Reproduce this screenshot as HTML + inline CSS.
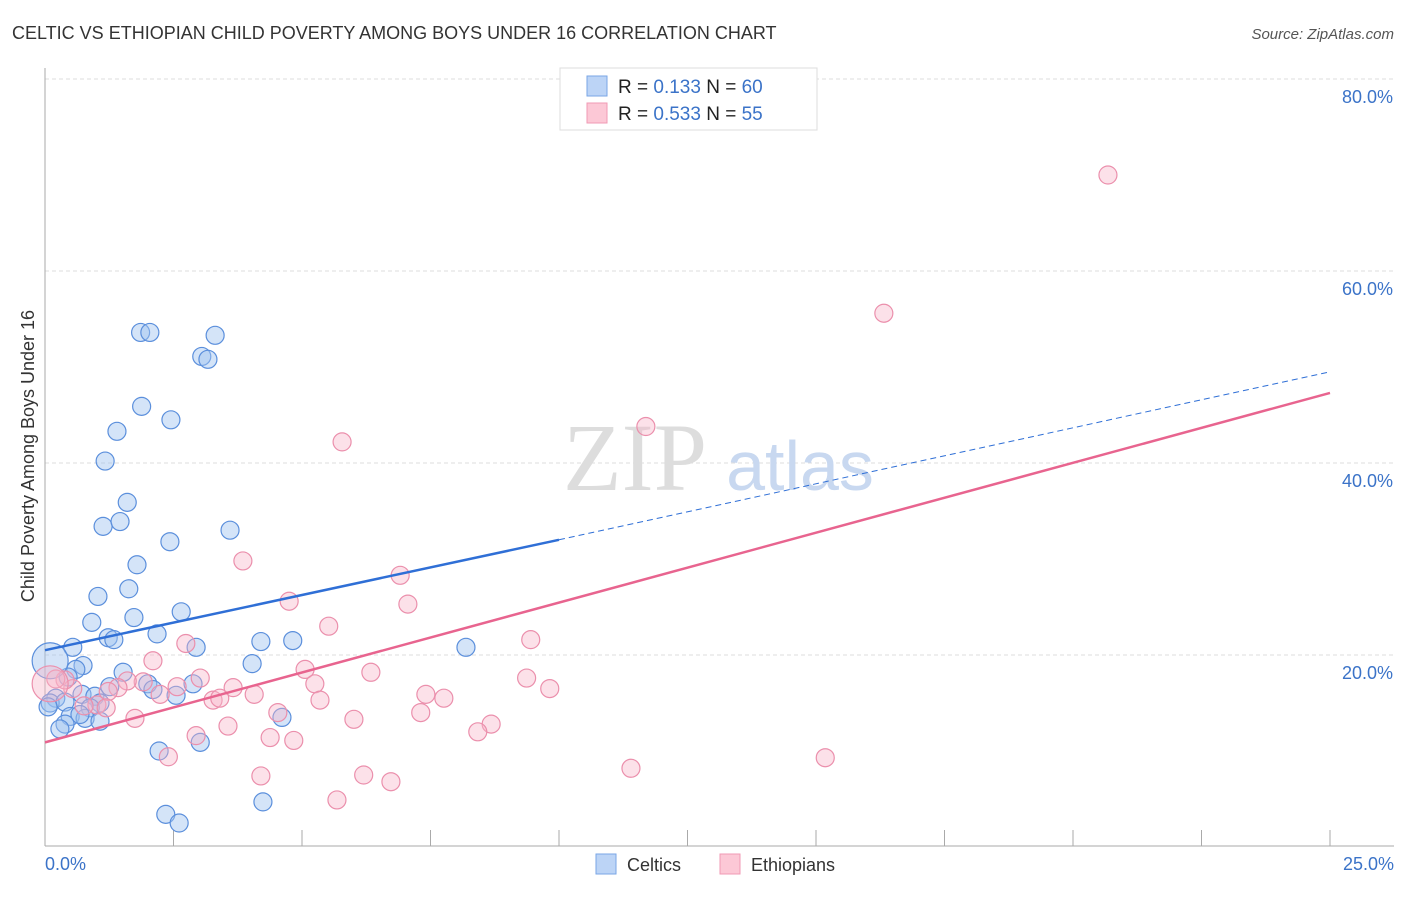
<!DOCTYPE html>
<html><head><meta charset="utf-8"><style>
body{margin:0;background:#fff;font-family:"Liberation Sans",sans-serif;}
</style></head><body>
<svg width="1406" height="892" xmlns="http://www.w3.org/2000/svg">
<text x="12" y="39" font-size="18" fill="#333">CELTIC VS ETHIOPIAN CHILD POVERTY AMONG BOYS UNDER 16 CORRELATION CHART</text>
<text x="1394" y="39" font-size="15" fill="#555" font-style="italic" text-anchor="end">Source: ZipAtlas.com</text>
<g id="grid"></g>
<text x="635" y="490" font-size="96" fill="#ddd" font-family="Liberation Serif,serif" text-anchor="middle">ZIP</text>
<text x="800" y="490" font-size="70" fill="#c8d8f0" text-anchor="middle">atlas</text>
<line x1="45" y1="68" x2="45" y2="846" stroke="#aaa"/>
<line x1="45" y1="846" x2="1394" y2="846" stroke="#aaa"/>
<g id="ticks"></g>
<g id="pts"></g>
<g id="lines"></g>
<text transform="translate(34,456) rotate(-90)" font-size="18" fill="#333" text-anchor="middle">Child Poverty Among Boys Under 16</text>
<text x="45" y="870" font-size="18" fill="#3b73c8">0.0%</text>
<text x="1394" y="870" font-size="18" fill="#3b73c8" text-anchor="end">25.0%</text>
<g>
<rect x="560" y="68" width="257" height="62" fill="#fff" stroke="#ddd"/>
<rect x="587" y="76" width="20" height="20" fill="#bcd4f6" stroke="#7aa6e6"/>
<rect x="587" y="103" width="20" height="20" fill="#fcc8d6" stroke="#f09ab4"/>
<text x="618" y="93" font-size="19" fill="#222">R = <tspan fill="#3b73c8"> 0.133</tspan>   N = <tspan fill="#3b73c8">60</tspan></text>
<text x="618" y="120" font-size="19" fill="#222">R = <tspan fill="#3b73c8">0.533</tspan>   N = <tspan fill="#3b73c8"> 55</tspan></text>
</g>
<g>
<rect x="596" y="854" width="20" height="20" fill="#bcd4f6" stroke="#7aa6e6"/>
<text x="627" y="871" font-size="18" fill="#333">Celtics</text>
<rect x="720" y="854" width="20" height="20" fill="#fcc8d6" stroke="#f09ab4"/>
<text x="751" y="871" font-size="18" fill="#333">Ethiopians</text>
</g>
</svg>
<script>
const yTicks=[20,40,60,80];
const yTickLabels=["20.0%","40.0%","60.0%","80.0%"];
const celticX=[1.86,2.04,3.31,3.05,3.17,1.88,2.45,1.40,1.17,1.60,1.13,1.46,3.6,2.43,1.79,1.63,1.03,2.65,0.91,1.73,1.23,1.34,2.18,0.54,2.94,4.2,4.82,8.19,4.03,0.74,0.6,1.52,0.45,1.26,2.0,2.1,2.55,2.88,0.72,0.97,0.21,0.1,0.39,1.07,0.88,0.06,0.49,0.78,0.68,1.07,0.39,0.29,4.61,2.22,3.02,4.24,2.35,2.61,0.1];
const celticY=[53.6,53.6,53.3,51.1,50.8,45.9,44.5,43.3,40.2,35.9,33.4,33.9,33,31.8,29.4,26.9,26.1,24.5,23.4,23.9,21.8,21.6,22.2,20.8,20.8,21.4,21.5,20.8,19.1,18.9,18.5,18.2,17.7,16.7,17,16.4,15.8,17,15.9,15.7,15.5,15,15.1,15,14.5,14.6,13.6,13.4,13.8,13.1,12.8,12.3,13.5,10,10.9,4.7,3.4,2.5,19.4];
const celticR=[9,9,9,9,9,9,9,9,9,9,9,9,9,9,9,9,9,9,9,9,9,9,9,9,9,9,9,9,9,9,9,9,9,9,9,9,9,9,9,9,9,9,9,9,9,9,9,9,9,9,9,9,9,9,9,9,9,9,18];
const ethX=[20.68,16.32,11.69,5.78,3.85,6.91,4.75,7.06,5.52,9.45,2.74,2.1,5.06,6.34,3.02,9.37,9.82,5.25,7.41,7.76,3.66,2.57,4.07,1.91,1.6,1.42,2.24,3.27,3.4,5.35,1.23,0.54,0.39,0.21,1.01,0.76,1.19,1.75,6.01,4.53,7.31,2.94,3.56,8.68,8.42,4.38,4.84,2.4,11.4,15.18,4.2,6.2,6.73,5.68,0.1];
const ethY=[70,55.6,43.8,42.2,29.8,28.3,25.6,25.3,23,21.6,21.2,19.4,18.5,18.2,17.6,17.6,16.5,17,15.9,15.5,16.6,16.7,15.9,17.2,17.3,16.6,15.9,15.3,15.5,15.3,16.2,16.5,17.4,17.5,14.8,14.7,14.5,13.4,13.3,14,14,11.6,12.6,12.8,12,11.4,11.1,9.4,8.2,9.3,7.4,7.5,6.8,4.9,17];
const ethR=[9,9,9,9,9,9,9,9,9,9,9,9,9,9,9,9,9,9,9,9,9,9,9,9,9,9,9,9,9,9,9,9,9,9,9,9,9,9,9,9,9,9,9,9,9,9,9,9,9,9,9,9,9,9,18];
const celticLine=[20.5,32.0,49.5];
const ethLine=[10.9,47.3];
const sx=v=>45+v*51.4, sy=v=>847-v*9.6;
const NS="http://www.w3.org/2000/svg";
function mk(t,a,p){const e=document.createElementNS(NS,t);for(const k in a)e.setAttribute(k,a[k]);document.getElementById(p).appendChild(e);return e;}
yTicks.forEach((t,i)=>{
 const g=mk('line',{x1:45,x2:1394,y1:sy(t),y2:sy(t),stroke:'#ddd','stroke-dasharray':'4,3'},'grid');
 
 
 const l=mk('text',{x:1393,y:sy(t)+24,'font-size':18,fill:'#3b73c8','text-anchor':'end'},'grid');
 l.textContent=yTickLabels[i];
 
 
});
for(let i=1;i<=10;i++){
 const t=mk('line',{x1:sx(i*2.5),x2:sx(i*2.5),y1:830,y2:846,stroke:'#aaa'},'ticks');
 
 
}
celticX.forEach((x,i)=>{
 const c=mk('circle',{cx:sx(x),cy:sy(celticY[i]),r:celticR[i],fill:'rgba(160,196,240,0.45)',stroke:'#5b8fdc','stroke-width':1.2},'pts');
 
 
});
ethX.forEach((x,i)=>{
 const c=mk('circle',{cx:sx(x),cy:sy(ethY[i]),r:ethR[i],fill:'rgba(248,180,200,0.4)',stroke:'#eb8fac','stroke-width':1.2},'pts');
 
 
});
const b1=mk('line',{x1:sx(0),y1:sy(celticLine[0]),x2:sx(10),y2:sy(celticLine[1]),stroke:'#2f6fd6','stroke-width':2.5},'lines');


const b2=mk('line',{x1:sx(10),y1:sy(celticLine[1]),x2:sx(25),y2:sy(celticLine[2]),stroke:'#2f6fd6','stroke-width':1,'stroke-dasharray':'6,4'},'lines');


const p1=mk('line',{x1:sx(0),y1:sy(ethLine[0]),x2:sx(25),y2:sy(ethLine[1]),stroke:'#e8648f','stroke-width':2.5},'lines');


</script>
</body></html>
